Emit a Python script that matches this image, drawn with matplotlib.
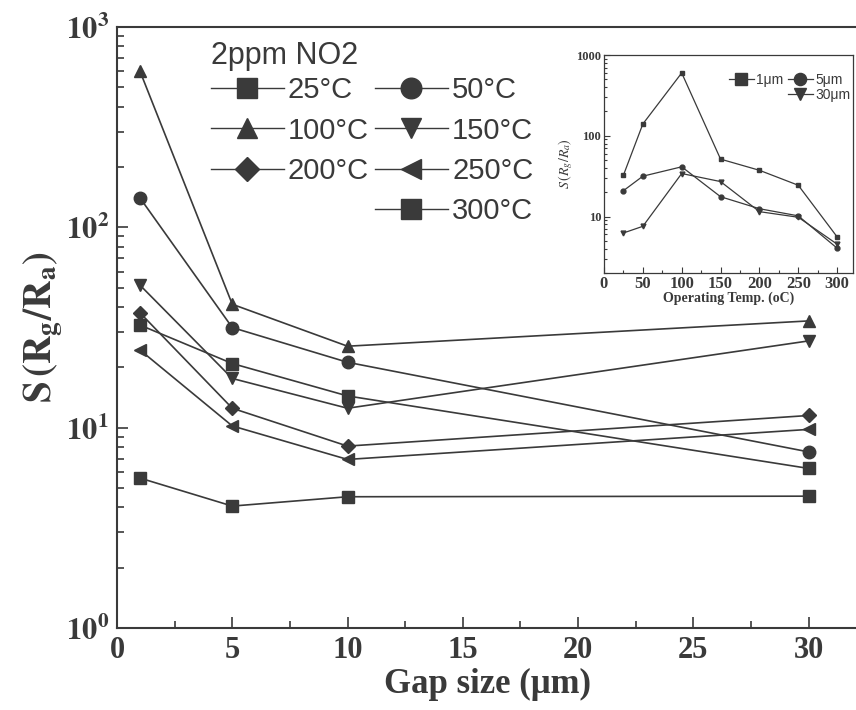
"""Gas response vs. gap size, with an inset vs. operating temperature."""
import matplotlib
matplotlib.use("Agg")
import matplotlib.pyplot as plt
from matplotlib.lines import Line2D
from matplotlib.ticker import LogLocator, MultipleLocator, NullFormatter, FixedLocator, FixedFormatter

plt.rcParams["mathtext.fontset"] = "stix"
plt.rcParams["font.family"] = "Liberation Serif"

INK = "#3a3a3a"

# data
gaps = [1, 5, 10, 30]
temps = [25, 50, 100, 150, 200, 250, 300]
s_25 = [32.5, 20.9, 14.4, 6.26]
s_50 = [140, 31.6, 21.2, 7.57]
s_100 = [600, 41.3, 25.5, 34.1]
s_150 = [51.4, 17.6, 12.5, 27.1]
s_200 = [37.4, 12.5, 8.09, 11.5]
s_250 = [24.4, 10.2, 6.94, 9.8]
s_300 = [5.6, 4.06, 4.52, 4.55]
series = [s_25, s_50, s_100, s_150, s_200, s_250, s_300]
markers = ["s", "o", "^", "v", "D", "<", "s"]
inset_gaps = [1, 5, 30]
inset_markers = ["s", "o", "v"]

fig = plt.figure(figsize=(8.56, 7.10), dpi=100)
ax = fig.add_axes([0.1367, 0.1155, 0.8663, 0.8465])

handles = {}
for t, vals, m in zip(temps, series, markers):
    ms = 7.5 if m == "D" else 9
    ax.plot(gaps, vals, marker=m, color=INK, lw=1.2, ms=ms, mec=INK, mfc=INK)
    handles[t] = Line2D([], [], color=INK, lw=1.0, marker=m, ms=ms * 1.65, mfc=INK, mec=INK,
                        label=f"{t}°C")

ax.set_yscale("log")
ax.set_xlim(0, 32.17)
ax.set_ylim(1, 1000)
ax.xaxis.set_major_locator(MultipleLocator(5))
ax.xaxis.set_minor_locator(MultipleLocator(2.5))
ax.yaxis.set_minor_locator(LogLocator(base=10, subs=range(2, 10), numticks=20))
ax.yaxis.set_minor_formatter(NullFormatter())
ax.set_yticks([1, 10, 100, 1000])
ax.set_yticklabels([r"$\mathbf{10^{0}}$", r"$\mathbf{10^{1}}$", r"$\mathbf{10^{2}}$", r"$\mathbf{10^{3}}$"])
ax.tick_params(which="both", direction="in", colors=INK, width=1.2)
ax.tick_params(which="major", length=8, labelsize=22, pad=6)
ax.tick_params(which="minor", length=5)
for lab in ax.get_xticklabels():
    lab.set_fontweight("bold")
for sp in ax.spines.values():
    sp.set_color(INK)
    sp.set_linewidth(1.5)

ax.set_xlabel("Gap size (μm)", fontsize=25, fontweight="bold", color=INK, labelpad=2)
ax.set_ylabel(r"$\mathbf{S\,(R_g/R_a)}$", fontsize=28, color=INK, labelpad=0)

# legend laid out row-wise, with an empty slot before 300°C
blank = Line2D([], [], color="none", label=" ")
order = [handles[25], handles[100], handles[200], blank,
         handles[50], handles[150], handles[250], handles[300]]
leg = fig.legend(handles=order, ncol=2, loc="upper left", bbox_to_anchor=(0.229, 0.963),
                 frameon=False, prop={"family": "Liberation Sans", "size": 21},
                 title="2ppm NO2", title_fontproperties={"family": "Liberation Sans", "size": 22},
                 handlelength=2.5, handletextpad=0.15, columnspacing=0.2, labelspacing=0.42,
                 borderpad=0, alignment="left")
for txt in leg.get_texts():
    txt.set_color(INK)
leg.get_title().set_color(INK)
leg._legend_box.sep = 4

# inset: same data versus operating temperature
ins = fig.add_axes([0.7056, 0.6155, 0.2905, 0.307])
for g, m in zip(inset_gaps, inset_markers):
    idx = gaps.index(g)
    ins.plot(temps, [vals[idx] for vals in series], marker=m, color=INK, lw=0.9, ms=3.5,
             mfc=INK, mec=INK, label=f"{g}μm")
ins.set_yscale("log")
ins.set_xlim(0, 320)
ins.set_ylim(2, 1000)
ins.xaxis.set_major_locator(MultipleLocator(50))
ins.xaxis.set_minor_locator(MultipleLocator(25))
ins.yaxis.set_major_locator(FixedLocator([10, 100, 1000]))
ins.yaxis.set_major_formatter(FixedFormatter(["10", "100", "1000"]))
ins.yaxis.set_minor_locator(LogLocator(base=10, subs=range(2, 10), numticks=20))
ins.yaxis.set_minor_formatter(NullFormatter())
ins.tick_params(which="both", direction="in", colors=INK, width=0.8)
ins.tick_params(which="major", length=4, pad=2)
ins.tick_params(axis="x", which="major", labelsize=12)
ins.tick_params(axis="y", which="major", labelsize=9)
ins.tick_params(which="minor", length=2)
for lab in ins.get_xticklabels() + ins.get_yticklabels():
    lab.set_fontweight("bold")
for sp in ins.spines.values():
    sp.set_color(INK)
    sp.set_linewidth(0.9)
ins.set_xlabel("Operating Temp. (oC)", fontsize=10, fontweight="bold", color=INK, labelpad=0)
ins.set_ylabel(r"$S\,(R_g/R_a)$", fontsize=10, color=INK, labelpad=1)

ih, il = ins.get_legend_handles_labels()
iblank = Line2D([], [], color="none", label=" ")
ileg = ins.legend(handles=[ih[0], iblank, ih[1], ih[2]], ncol=2, loc="upper right",
                  bbox_to_anchor=(1.02, 0.95), frameon=False,
                  prop={"family": "Liberation Sans", "size": 10}, markerscale=2.5,
                  handlelength=1.8, handletextpad=0.2, columnspacing=0.3, labelspacing=0.05,
                  borderpad=0)
for txt in ileg.get_texts():
    txt.set_color(INK)

fig.savefig("out.png", dpi=100)
